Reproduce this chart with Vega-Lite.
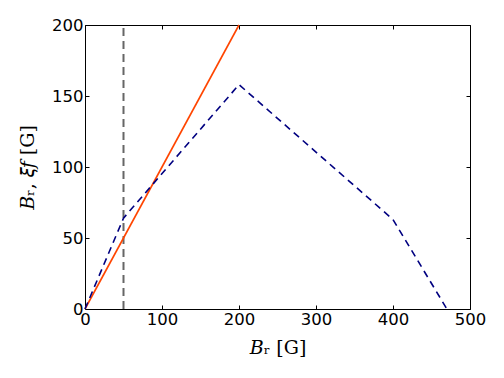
{
  "$schema": "https://vega.github.io/schema/vega-lite/v6.json",
  "width": 385,
  "height": 284,
  "autosize": {"type": "none"},
  "padding": {"left": 85, "top": 25, "right": 34, "bottom": 69},
  "background": "white",
  "config": {
    "view": {"stroke": "black", "strokeWidth": 1},
    "axis": {
      "grid": false,
      "domain": false,
      "tickColor": "black",
      "tickSize": -4,
      "tickWidth": 1,
      "labelFont": "DejaVu Sans",
      "labelFontSize": 16.5,
      "labelColor": "black",
      "titleFont": "DejaVu Serif",
      "titleFontSize": 19,
      "titleFontWeight": "normal",
      "titleColor": "black"
    }
  },
  "datasets": {
    "blue": [
      {"Br": 0, "v": 0},
      {"Br": 50, "v": 64},
      {"Br": 200, "v": 158},
      {"Br": 400, "v": 63},
      {"Br": 470, "v": 0}
    ],
    "orange": [
      {"Br": 0, "v": 0},
      {"Br": 200, "v": 200}
    ],
    "vline": [
      {"Br": 50, "v": 0},
      {"Br": 50, "v": 200}
    ]
  },
  "layer": [
    {
      "data": {"name": "vline"},
      "mark": {"type": "line", "color": "#666666", "strokeWidth": 2, "strokeDash": [8, 5]},
      "encoding": {
        "x": {"field": "Br", "type": "quantitative",
              "scale": {"domain": [0, 500], "nice": false},
              "axis": {"orient": "bottom", "values": [0, 100, 200, 300, 400, 500], "title": "𝐵ᵣ [G]", "labelPadding": 6, "titlePadding": 11, "labelFlush": false}},
        "y": {"field": "v", "type": "quantitative",
              "scale": {"domain": [0, 200], "nice": false},
              "axis": {"orient": "left", "values": [0, 50, 100, 150, 200], "title": "𝐵ᵣ, 𝜉𝑓 [G]", "labelPadding": 6, "titlePadding": 14, "labelFlush": false}}
      }
    },
    {
      "data": {"name": "orange"},
      "mark": {"type": "line", "color": "#FF4500", "strokeWidth": 1.6},
      "encoding": {
        "x": {"field": "Br", "type": "quantitative",
              "axis": {"orient": "top", "values": [0, 100, 200, 300, 400, 500], "labels": false, "title": null}},
        "y": {"field": "v", "type": "quantitative",
              "axis": {"orient": "right", "values": [0, 50, 100, 150, 200], "labels": false, "title": null}}
      }
    },
    {
      "data": {"name": "blue"},
      "mark": {"type": "line", "color": "#000080", "strokeWidth": 1.6, "strokeDash": [7, 5]},
      "encoding": {
        "x": {"field": "Br", "type": "quantitative", "axis": null},
        "y": {"field": "v", "type": "quantitative", "axis": null}
      }
    }
  ]
}
